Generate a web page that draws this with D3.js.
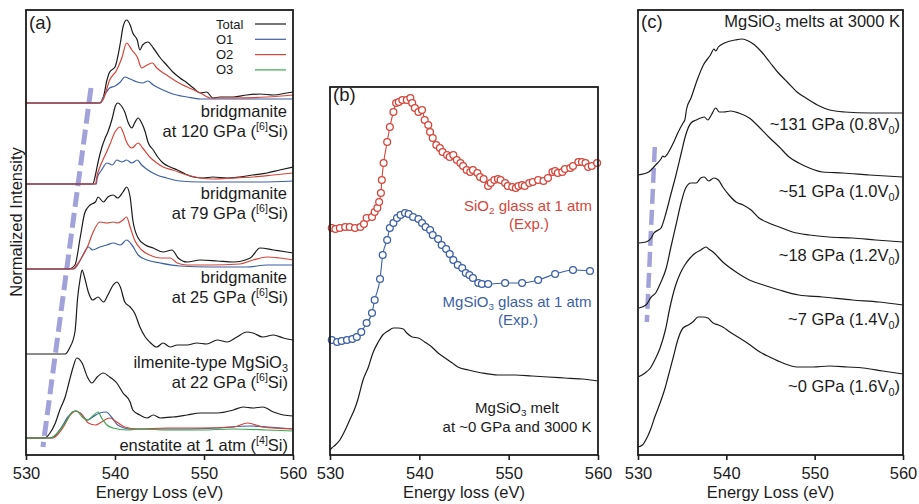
<!DOCTYPE html>
<html>
<head>
<meta charset="utf-8">
<script src="https://cdn.jsdelivr.net/npm/d3@7"></script>
<style>
  body { margin: 0; background: #fff; }
  svg { display: block; }
</style>
</head>
<body>
<svg id="chart" width="919" height="504"></svg>
<script>
// ---------------------------------------------------------------
// O K-edge spectra: energy loss (eV) vs. stacked normalized intensity
// ---------------------------------------------------------------
const energyTicks = [530, 540, 550, 560];

// (a) crystalline phases — [energy, stacked intensity]
const bdg120Total = [[530,35.2],[538.3,35.2],[538.7,35.8],[539.1,37.5],[539.4,38.3],[540.0,38.8],[540.6,41.2],[540.9,42.8],[541.3,43.5],[541.7,43.0],[542.0,42.2],[542.5,41.5],[542.8,40.5],[543.1,41.0],[543.7,41.3],[544.3,40.7],[545.1,39.7],[545.8,39.0],[546.5,38.3],[547.3,37.7],[548.1,37.2],[548.8,36.7],[549.6,36.2],[550.3,36.3],[551.0,35.7],[551.8,35.8],[553.3,35.8],[554.8,36.0],[556.3,36.1],[557.8,36.0],[559.3,36.2],[560,36.3]];
const bdg120O1 = [[530,35.2],[538.3,35.2],[538.7,35.8],[539.4,36.7],[540.0,36.9],[540.6,37.3],[541.1,37.8],[541.7,37.6],[542.5,37.3],[543.1,37.2],[543.7,37.4],[544.3,37.0],[545.4,36.5],[546.5,36.1],[548.1,35.8],[549.6,35.6],[553.3,35.6],[560,35.6]];
const bdg120O2 = [[530,35.2],[538.2,35.2],[538.7,35.6],[539.4,37.5],[540.2,38.5],[540.8,39.8],[541.3,41.2],[541.9,40.5],[542.5,39.8],[543.0,38.7],[543.6,39.0],[544.2,39.2],[544.7,38.7],[545.8,38.0],[547.0,37.3],[548.1,36.8],[549.6,36.2],[550.7,35.7],[553.3,35.7],[557.1,35.8],[560,36.0]];

const bdg79Total = [[530,27.1],[537.5,27.1],[537.8,28.0],[538.1,29.3],[538.5,30.7],[538.9,31.7],[539.2,32.3],[539.7,33.7],[540.0,34.8],[540.3,35.2],[540.8,34.8],[541.1,34.3],[541.5,33.2],[541.9,32.7],[542.2,33.2],[542.6,33.7],[543.0,33.2],[543.4,32.3],[543.7,31.3],[544.3,30.5],[544.8,29.8],[545.4,29.2],[546.2,28.8],[547.0,28.5],[547.9,28.1],[548.8,27.8],[549.9,27.7],[551.0,27.8],[552.6,27.7],[554.0,27.8],[555.5,28.0],[557.1,28.2],[558.5,28.5],[560,28.8]];
const bdg79O1 = [[530,27.1],[537.9,27.1],[538.0,27.7],[538.5,28.5],[539.1,29.2],[539.7,29.0],[540.2,29.5],[540.8,29.3],[541.3,29.5],[541.9,29.2],[542.5,29.5],[543.0,29.0],[543.7,28.5],[544.7,28.0],[545.8,27.7],[547.3,27.4],[549.6,27.3],[552.6,27.3],[556.3,27.3],[560,27.4]];
const bdg79O2 = [[530,27.1],[537.8,27.1],[538.0,28.0],[538.3,28.8],[538.9,30.0],[539.4,31.0],[540.0,32.3],[540.6,32.8],[540.9,32.3],[541.3,31.3],[541.9,30.7],[542.6,31.2],[543.1,30.7],[543.9,29.8],[544.7,29.2],[545.4,28.8],[546.5,28.5],[548.1,28.0],[549.6,27.7],[551.0,27.6],[553.3,27.7],[555.5,27.8],[557.8,28.0],[560,28.2]];

const bdg25Total = [[530,18.6],[534.8,18.6],[535.5,19.0],[536.1,21.8],[536.6,24.2],[537.2,25.0],[537.8,25.3],[538.1,25.8],[538.7,25.3],[539.2,25.8],[539.8,26.0],[540.3,25.7],[540.9,26.3],[541.3,26.8],[541.7,25.8],[542.0,23.5],[542.6,21.7],[543.4,21.0],[544.3,20.7],[545.4,20.3],[546.4,20.5],[547.1,19.7],[548.1,19.3],[549.6,19.5],[551.5,19.4],[553.3,19.3],[555.2,19.7],[556.3,20.7],[557.8,20.5],[559.3,20.3],[560,20.2]];
const bdg25O1 = [[530,18.6],[535.3,18.6],[535.8,19.0],[536.4,20.0],[537.0,20.8],[537.5,20.5],[538.3,20.8],[539.1,21.0],[539.8,21.2],[540.6,21.0],[541.3,21.5],[541.9,21.0],[542.6,20.0],[543.6,19.5],[545.1,19.2],[547.3,18.9],[550.7,18.8],[554.8,18.8],[557.1,19.0],[560,19.0]];
const bdg25O2 = [[530,18.6],[535.2,18.6],[535.7,19.0],[536.3,19.8],[536.9,20.8],[537.5,22.2],[538.3,23.3],[539.1,23.2],[539.8,23.3],[540.3,23.2],[540.9,23.5],[541.3,23.8],[541.7,22.8],[542.2,21.5],[543.0,20.5],[543.9,20.0],[545.1,19.7],[546.2,19.7],[547.0,19.2],[548.1,19.0],[550.7,19.0],[554.0,19.1],[555.5,19.5],[557.1,19.8],[558.5,19.7],[560,19.5]];

const ilm22Total = [[530,10.1],[534.4,10.1],[534.9,10.7],[535.5,12.3],[535.8,15.7],[536.1,17.7],[536.3,18.5],[536.6,17.7],[537.0,16.3],[537.5,15.5],[538.1,15.8],[538.7,15.3],[539.2,16.0],[539.8,17.0],[540.2,17.3],[540.6,16.8],[541.1,15.3],[541.7,14.8],[542.2,14.2],[542.8,12.8],[543.4,11.8],[543.9,11.3],[544.7,10.8],[545.4,11.2],[546.2,10.8],[547.0,11.0],[548.1,11.0],[549.2,11.2],[550.3,11.1],[551.5,11.5],[552.6,11.3],[553.7,11.8],[554.8,12.3],[555.5,12.2],[556.6,11.8],[557.8,12.0],[558.9,11.7],[560,11.5]];

const ens1Total = [[530,1.7],[532.1,1.7],[532.7,2.2],[533.3,3.2],[533.8,4.5],[534.4,5.8],[534.9,7.5],[535.3,8.8],[535.7,9.7],[536.3,9.2],[536.9,7.8],[537.4,7.2],[538.0,7.8],[538.7,8.2],[539.4,7.8],[540.2,7.2],[540.9,6.2],[541.7,5.3],[542.0,4.5],[542.8,4.0],[543.6,3.7],[544.3,4.0],[545.1,3.7],[546.5,3.8],[548.1,4.0],[549.6,4.2],[551.5,4.2],[553.3,4.5],[554.4,4.8],[555.5,4.7],[556.6,4.8],[557.8,4.3],[558.9,4.0],[560,3.9]];
const ens1O1 = [[530,1.7],[532.9,1.7],[534.0,2.8],[534.7,3.8],[535.5,4.4],[536.1,4.2],[536.9,3.5],[537.5,3.8],[538.3,4.2],[539.0,4.3],[539.7,3.7],[540.3,3.0],[541.7,2.6],[543.9,2.6],[547.6,2.6],[551.5,2.7],[555.2,2.9],[557.1,2.8],[560,2.6]];
const ens1O2 = [[530,1.7],[533.0,1.7],[534.2,2.8],[534.9,3.9],[535.6,4.4],[536.3,4.0],[537.0,3.2],[537.8,3.0],[538.5,3.3],[539.4,3.7],[540.2,3.3],[541.1,2.8],[542.5,2.6],[545.8,2.7],[549.6,2.7],[553.3,2.8],[554.9,3.2],[556.6,2.8],[560,2.6]];
const ens1O3 = [[530,1.7],[532.7,1.7],[533.8,2.5],[534.6,3.5],[535.2,4.3],[535.7,4.4],[536.3,3.8],[536.9,3.5],[537.5,3.9],[538.1,4.3],[538.5,3.7],[539.1,3.0],[539.8,2.7],[541.3,2.5],[543.1,2.6],[545.8,2.5],[549.6,2.5],[553.3,2.6],[557.1,2.5],[560,2.4]];

// onset guide in (a): [energy, intensity] end points
const onsetA = [[531.9,0.8],[537.3,36.7]];

// (b) experimental glasses and simulated melt
const sio2Glass = [[530.2,22.7],[530.6,22.6],[531.1,22.7],[531.7,22.8],[532.2,22.8],[532.8,22.7],[533.4,22.8],[533.8,23.1],[534.1,23.7],[534.7,23.8],[535.0,24.3],[535.3,24.7],[535.5,25.3],[535.7,26.2],[535.8,27.5],[536.0,29.2],[536.4,31.3],[536.7,32.8],[537.1,34.3],[537.4,35.2],[537.7,35.3],[538.1,35.5],[538.6,35.5],[539.0,35.7],[539.2,35.2],[539.5,34.7],[539.9,34.3],[540.3,34.5],[540.6,33.5],[541.0,33.0],[541.2,32.3],[541.5,31.7],[541.9,31.0],[542.3,30.7],[542.6,30.3],[543.1,30.0],[543.4,29.8],[543.8,30.0],[544.2,29.5],[544.6,29.2],[544.9,28.9],[545.3,28.5],[545.7,28.3],[546.0,28.5],[546.5,28.2],[546.8,27.8],[547.2,27.6],[547.7,26.9],[548.0,27.2],[548.4,27.5],[548.8,27.6],[549.1,27.5],[549.6,27.2],[549.9,26.9],[550.4,26.8],[550.8,26.7],[551.1,26.9],[551.5,27.0],[551.8,26.9],[552.3,27.2],[552.7,27.3],[553.3,27.5],[553.9,27.4],[554.4,27.7],[554.9,28.3],[555.2,28.4],[555.5,28.2],[556.0,28.3],[556.3,28.6],[556.9,28.7],[557.2,28.9],[557.8,29.3],[558.2,29.3],[558.6,29.2],[558.9,28.8],[559.3,28.9],[559.9,29.2]];
const mgsio3Glass = [[530.2,11.5],[530.8,11.3],[531.3,11.4],[531.9,11.5],[532.5,11.6],[533.0,11.8],[533.5,12.3],[534.1,13.2],[534.7,14.2],[535.0,15.5],[535.6,17.6],[535.9,20.0],[536.4,21.5],[536.7,22.7],[537.1,23.2],[537.5,23.7],[537.9,24.0],[538.4,24.2],[538.8,24.1],[539.3,23.8],[539.9,23.6],[540.3,23.2],[540.7,22.8],[541.2,22.5],[541.5,22.0],[542.1,21.6],[542.5,21.0],[543.0,20.6],[543.4,20.1],[543.8,19.5],[544.3,19.0],[544.8,18.7],[545.2,18.2],[545.6,18.0],[546.0,17.7],[546.6,17.2],[547.0,17.1],[547.7,17.1],[549.6,17.2],[551.5,17.2],[553.3,17.5],[555.2,18.1],[557.2,18.5],[559.1,18.4]];
const mgsio3Melt0 = [[530.0,0.5],[530.2,0.7],[530.6,1.0],[531.1,1.5],[531.7,2.5],[532.2,3.5],[532.8,4.7],[533.1,5.5],[533.7,7.5],[534.3,8.8],[534.8,10.2],[535.4,11.3],[535.9,12.0],[536.5,12.4],[537.1,12.7],[537.6,12.7],[538.2,12.6],[538.6,12.2],[539.2,11.8],[539.9,11.7],[540.6,11.3],[541.4,10.8],[542.1,10.2],[542.9,9.7],[543.7,9.2],[544.3,8.8],[545.5,8.5],[547.0,8.2],[548.8,8.0],[550.7,8.0],[552.6,7.9],[554.4,7.8],[556.3,7.7],[558.2,7.6],[560.0,7.4]];

// (c) MgSiO3 melts at 3000 K, compressed to different volumes
const melt131 = [[530.0,28.0],[531.2,28.3],[532.0,29.0],[532.6,29.6],[532.8,29.9],[533.0,29.8],[533.4,30.2],[534.0,31.2],[534.5,32.2],[535.1,33.2],[535.3,33.5],[535.5,34.6],[536.0,35.7],[536.7,37.5],[537.4,39.0],[538.2,40.0],[538.6,40.6],[538.8,40.4],[539.1,40.8],[539.8,41.2],[541.0,41.5],[541.8,41.6],[542.5,41.4],[543.2,41.0],[544.0,40.3],[544.9,39.3],[545.8,38.3],[546.9,37.3],[548.0,36.3],[549.0,35.7],[550.3,35.0],[551.7,34.5],[553.4,34.3],[556.3,34.2],[560.0,34.2]];
const melt51 = [[530.1,21.2],[530.9,21.3],[531.5,21.7],[531.8,22.2],[532.3,22.5],[532.6,22.7],[533.2,24.3],[533.7,26.0],[534.3,28.0],[534.9,30.2],[535.4,32.0],[536.0,33.2],[536.6,33.5],[537.1,33.7],[537.5,33.8],[537.9,33.5],[538.3,34.0],[538.8,34.7],[539.2,34.3],[539.7,34.3],[540.5,34.4],[541.4,34.2],[542.6,33.7],[543.7,32.8],[544.8,31.8],[546.0,30.8],[547.1,29.8],[548.2,29.2],[549.4,28.7],[550.9,28.3],[553.2,28.2],[556.2,28.0],[560.0,27.8]];
const melt18 = [[530.1,14.7],[530.9,15.0],[531.5,15.8],[532.0,16.2],[532.6,17.3],[533.2,18.7],[533.7,20.7],[534.3,23.0],[534.9,25.3],[535.4,26.7],[536.0,27.2],[536.6,27.2],[537.1,27.7],[537.5,27.8],[538.0,27.4],[538.6,27.7],[539.1,27.5],[539.6,26.8],[540.3,26.0],[541.1,25.3],[541.9,25.0],[542.8,24.5],[543.7,23.7],[544.8,23.2],[546.0,22.8],[547.5,22.3],[549.4,22.0],[551.6,21.8],[554.3,21.7],[556.9,21.5],[560.0,21.3]];
const melt7 = [[530.0,7.8],[530.8,8.2],[531.4,8.7],[531.9,9.5],[532.5,10.7],[533.1,12.5],[533.6,14.7],[534.2,16.8],[534.8,18.2],[535.3,19.0],[535.9,19.7],[536.5,20.2],[537.1,20.5],[537.7,20.8],[538.0,20.6],[538.5,20.3],[539.6,19.3],[541.1,18.3],[542.6,17.5],[544.2,17.0],[546.0,16.5],[548.2,16.0],[550.9,15.8],[554.3,15.5],[557.3,15.3],[560.0,15.0]];
const melt0 = [[530.0,0.8],[530.5,1.0],[531.0,1.7],[531.4,2.5],[531.9,3.8],[532.5,5.2],[533.1,6.8],[533.4,7.8],[534.0,9.8],[534.5,11.5],[535.1,12.7],[535.7,13.0],[536.2,13.3],[536.8,13.8],[537.4,13.8],[537.9,13.7],[538.5,13.2],[539.1,13.0],[539.6,12.8],[540.4,12.3],[541.5,11.7],[542.7,11.0],[543.8,10.3],[544.9,9.8],[546.4,9.2],[548.0,8.8],[549.8,8.8],[551.7,8.9],[553.7,8.8],[555.5,8.7],[557.7,8.4],[560.0,8.1]];

// onset guide in (c)
const onsetC = [[531.0,13.3],[531.9,30.8]];

// ---------------------------------------------------------------
const FONT = '"Liberation Sans", Arial, Helvetica, sans-serif';
const INK = '#1b1b1b';
const C_TOTAL = '#1b1b1b', C_O1 = '#3c5fa6', C_O2 = '#d4463b', C_O3 = '#3ea653';
const C_GUIDE = '#a2a2da';

const svg = d3.select('#chart');

function makePanel(box, yMax) {
  const x = d3.scaleLinear().domain([530, 560]).range([box.left, box.right]);
  const y = d3.scaleLinear().domain([0, yMax]).range([box.bottom, box.top]);
  const g = svg.append('g');
  return { x, y, g, box };
}

// text with ^{sup} and _{sub} markup
function rich(sel, str, size) {
  const parts = str.split(/(\^\{[^}]*\}|_\{[^}]*\})/).filter(s => s.length);
  let shift = 0;
  parts.forEach(p => {
    let dy = 0, fs = size, txt = p;
    if (p.startsWith('^{')) { txt = p.slice(2, -1); fs = size * 0.64; dy = -size * 0.4; }
    else if (p.startsWith('_{')) { txt = p.slice(2, -1); fs = size * 0.66; dy = size * 0.22; }
    sel.append('tspan').attr('dy', (dy - shift).toFixed(2)).attr('font-size', fs).text(txt);
    shift = dy;
  });
  return sel;
}

function label(g, x, y, str, opts = {}) {
  const size = opts.size || 16.5;
  const t = g.append('text')
    .attr('x', x).attr('y', y)
    .attr('text-anchor', opts.anchor || 'end')
    .attr('font-family', FONT)
    .attr('font-size', size)
    .attr('fill', opts.color || INK);
  return rich(t, str, size);
}

function frameAndAxis(p, title) {
  const b = p.box;
  const ax = d3.axisBottom(p.x).tickValues(energyTicks).tickSize(5).tickSizeOuter(0).tickPadding(7);
  const ag = p.g.append('g').attr('transform', `translate(0,${b.bottom})`).call(ax);
  ag.select('.domain').remove();
  ag.selectAll('.tick line').attr('stroke', INK).attr('stroke-width', 1.6);
  ag.selectAll('.tick text').attr('font-size', 16.5).attr('font-family', FONT).attr('fill', INK);
  p.g.append('rect')
    .attr('x', b.left).attr('y', b.top)
    .attr('width', b.right - b.left).attr('height', b.bottom - b.top)
    .attr('fill', 'none').attr('stroke', INK).attr('stroke-width', 1.8);
  p.g.append('text')
    .attr('x', (b.left + b.right) / 2).attr('y', 498)
    .attr('text-anchor', 'middle').attr('font-family', FONT).attr('font-size', 16.5)
    .attr('fill', INK).text(title);
}

function spectrum(p, data, color, width) {
  const line = d3.line().x(d => p.x(d[0])).y(d => p.y(d[1])).curve(d3.curveMonotoneX);
  return p.g.append('path').datum(data)
    .attr('d', line).attr('fill', 'none')
    .attr('stroke', color).attr('stroke-width', width || 1.2)
    .attr('stroke-linejoin', 'round');
}

function guide(p, pts, width) {
  p.g.append('line')
    .attr('x1', p.x(pts[1][0])).attr('y1', p.y(pts[1][1]))
    .attr('x2', p.x(pts[0][0])).attr('y2', p.y(pts[0][1]))
    .attr('stroke', C_GUIDE).attr('stroke-width', width)
    .attr('stroke-dasharray', '15,6');
}

// ---------------- panel (a) ----------------
const pA = makePanel({ left: 26, right: 293, top: 10, bottom: 455 }, 44.5);
guide(pA, onsetA, 5);
[
  [bdg120Total, C_TOTAL], [bdg120O1, C_O1], [bdg120O2, C_O2],
  [bdg79Total, C_TOTAL], [bdg79O1, C_O1], [bdg79O2, C_O2],
  [bdg25Total, C_TOTAL], [bdg25O1, C_O1], [bdg25O2, C_O2],
  [ilm22Total, C_TOTAL],
  [ens1Total, C_TOTAL], [ens1O1, C_O1], [ens1O2, C_O2], [ens1O3, C_O3]
].forEach(([d, c]) => spectrum(pA, d, c));
frameAndAxis(pA, 'Energy Loss (eV)');

label(pA.g, 29, 29, '(a)', { anchor: 'start', size: 18.5 });
const legendItems = [['Total', C_TOTAL], ['O1', C_O1], ['O2', C_O2], ['O3', C_O3]];
legendItems.forEach(([name, c], i) => {
  const yy = 24 + i * 15.3;
  pA.g.append('text').attr('x', 216).attr('y', yy + 4.5)
    .attr('font-family', FONT).attr('font-size', 13).attr('fill', INK).text(name);
  pA.g.append('line').attr('x1', 255).attr('x2', 286).attr('y1', yy).attr('y2', yy)
    .attr('stroke', c).attr('stroke-width', 1.2);
});
label(pA.g, 287, 117, 'bridgmanite');
label(pA.g, 288, 137, 'at 120 GPa (^{[6]}Si)');
label(pA.g, 287, 199, 'bridgmanite');
label(pA.g, 288, 219, 'at 79 GPa (^{[6]}Si)');
label(pA.g, 287, 283, 'bridgmanite');
label(pA.g, 288, 303, 'at 25 GPa (^{[6]}Si)');
label(pA.g, 288, 368, 'ilmenite-type MgSiO_{3}');
label(pA.g, 288, 388, 'at 22 GPa (^{[6]}Si)');
label(pA.g, 288, 451, 'enstatite at 1 atm (^{[4]}Si)');
svg.append('text')
  .attr('transform', 'translate(22,222) rotate(-90)')
  .attr('text-anchor', 'middle').attr('font-family', FONT).attr('font-size', 16.5)
  .attr('fill', INK).text('Normalized Intensity');

// ---------------- panel (b) ----------------
const pB = makePanel({ left: 330, right: 598, top: 87, bottom: 455 }, 36.8);
[[sio2Glass, C_O2], [mgsio3Glass, C_O1]].forEach(([d, c]) => {
  spectrum(pB, d, c, 1.1);
  pB.g.append('g').selectAll('circle').data(d).join('circle')
    .attr('cx', e => pB.x(e[0])).attr('cy', e => pB.y(e[1])).attr('r', 3.4)
    .attr('fill', '#fff').attr('stroke', c).attr('stroke-width', 1.3);
});
spectrum(pB, mgsio3Melt0, C_TOTAL, 1.2);
frameAndAxis(pB, 'Energy loss (eV)');
label(pB.g, 333, 101, '(b)', { anchor: 'start', size: 18.5 });
const bSize = 15;
label(pB.g, 528, 211, 'SiO_{2} glass at 1 atm', { anchor: 'middle', color: C_O2, size: bSize });
label(pB.g, 529, 229, '(Exp.)', { anchor: 'middle', color: C_O2, size: bSize });
label(pB.g, 517, 307, 'MgSiO_{3} glass at 1 atm', { anchor: 'middle', color: C_O1, size: bSize });
label(pB.g, 518, 325, '(Exp.)', { anchor: 'middle', color: C_O1, size: bSize });
label(pB.g, 517, 413, 'MgSiO_{3} melt', { anchor: 'middle', size: bSize });
label(pB.g, 517, 432, 'at ~0 GPa and 3000 K', { anchor: 'middle', size: bSize });

// ---------------- panel (c) ----------------
const pC = makePanel({ left: 638, right: 903, top: 10, bottom: 455 }, 44.5);
guide(pC, onsetC, 4.5);
[melt131, melt51, melt18, melt7, melt0].forEach(d => spectrum(pC, d, C_TOTAL, 1.2));
frameAndAxis(pC, 'Energy Loss (eV)');
label(pC.g, 641, 28, '(c)', { anchor: 'start', size: 18.5 });
label(pC.g, 900, 27, 'MgSiO_{3} melts at 3000 K');
label(pC.g, 900, 130, '~131 GPa (0.8V_{0})');
label(pC.g, 900, 197, '~51 GPa (1.0V_{0})');
label(pC.g, 900, 261, '~18 GPa (1.2V_{0})');
label(pC.g, 900, 325, '~7 GPa (1.4V_{0})');
label(pC.g, 900, 392, '~0 GPa (1.6V_{0})');
</script>
</body>
</html>
